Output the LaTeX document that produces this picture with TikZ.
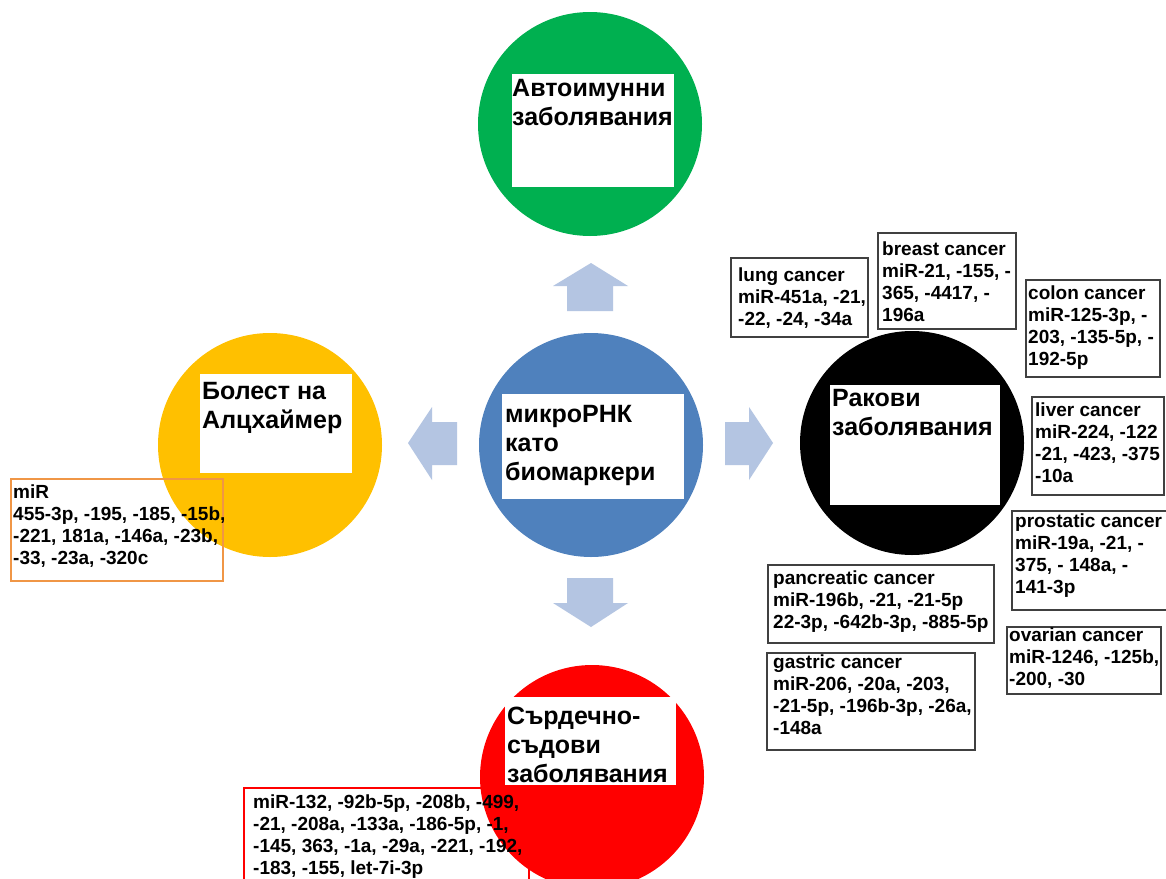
\documentclass[tikz,border=0pt]{standalone}
\usepackage{fontspec}
\setmainfont{Liberation Sans}
\definecolor{cgreen}{RGB}{0,176,80}
\definecolor{cblue}{RGB}{79,129,189}
\definecolor{cyellow}{RGB}{255,192,0}
\definecolor{cred}{RGB}{255,0,0}
\definecolor{carrow}{RGB}{180,197,226}
\definecolor{cframe}{RGB}{64,64,64}
\definecolor{corange}{RGB}{240,150,70}
\begin{document}
\begin{tikzpicture}[x=1pt,y=-1pt,
  disc/.style={circle,minimum size=224pt,inner sep=0pt,draw=none},
  wbox/.style={fill=white,draw=none},
  big/.style={font=\fontsize{25}{29}\selectfont\bfseries,align=left,inner sep=0pt,anchor=north west},
  small/.style={font=\fontsize{19}{21.8}\selectfont\bfseries,align=left,inner sep=0pt,anchor=north west},
  frame/.style={draw=cframe,line width=1.3pt,fill=white},
  blockarrow/.style={fill=carrow,draw=none}]
\useasboundingbox (0,0) rectangle (1166,878);
\fill[white] (0,0) rectangle (1166,878);

% circles
\node[disc,fill=cgreen]  (green)  at (590,124) {};
\node[disc,fill=cblue]   (blue)   at (591,445) {};
\node[disc,fill=cyellow] (yellow) at (270,445) {};
\node[disc,fill=black]   (black)  at (912,443) {};
\node[disc,fill=cred]    (red)    at (592,777) {};

% white label boxes
\fill[wbox] (512,74) rectangle (674,187);
\fill[wbox] (502,394) rectangle (684,499);
\fill[wbox] (200,374) rectangle (352,473);
\fill[wbox] (830,385) rectangle (1000,505);
\fill[wbox] (505,697) rectangle (676,785);

% big labels
\node[big] (tgreen)  at (512,79)  {\vphantom{Ал}Автоимунни\\заболявания};
\node[big] (tblue)   at (505,405) {\vphantom{Ал}микроРНК\\като\\биомаркери};
\node[big] (tyellow) at (202,382) {\vphantom{Ал}Болест на\\Алцхаймер};
\node[big] (tblack)  at (832,389) {\vphantom{Ал}Ракови\\заболявания};
\node[big] (tred)    at (507,707) {\vphantom{Ал}Сърдечно-\\съдови\\заболявания};

% block arrows
\fill[blockarrow] (591,263) -- (628,286) -- (613,286) -- (613,311) -- (567,311) -- (567,286) -- (553,286) -- cycle;
\fill[blockarrow] (591,627) -- (628,603) -- (613,603) -- (613,578) -- (567,578) -- (567,603) -- (553,603) -- cycle;
\fill[blockarrow] (408,443) -- (432,407) -- (432,422) -- (457,422) -- (457,465) -- (432,465) -- (432,480) -- cycle;
\fill[blockarrow] (773,443) -- (749,407) -- (749,422) -- (725,422) -- (725,465) -- (749,465) -- (749,480) -- cycle;

% cancer boxes
\draw[frame] (731,258) rectangle (868,337);
\node[small] (lung) at (738,268) {\vphantom{Ал}lung cancer\\miR-451a, -21,\\-22, -24, -34a};
\draw[frame] (878,233) rectangle (1016,329);
\node[small] (breast) at (882,242) {\vphantom{Ал}breast cancer\\miR-21, -155, -\\365, -4417, -\\196a};
\draw[frame] (1026,280) rectangle (1160,377);
\node[small] (colon) at (1028,286) {\vphantom{Ал}colon cancer\\miR-125-3p, -\\203, -135-5p, -\\192-5p};
\draw[frame] (1032,397) rectangle (1164,495);
\node[small] (liver) at (1035,403) {\vphantom{Ал}liver cancer\\miR-224, -122\\-21, -423, -375\\-10a};
\draw[frame] (1012,511) rectangle (1172,610);
\node[small] (prostatic) at (1015,514) {\vphantom{Ал}prostatic cancer\\miR-19a, -21, -\\375, - 148a, -\\141-3p};
\draw[frame] (768,565) rectangle (994,643);
\node[small] (pancreatic) at (773,571) {\vphantom{Ал}pancreatic cancer\\miR-196b, -21, -21-5p\\22-3p, -642b-3p, -885-5p};
\draw[frame] (767,653) rectangle (975,750);
\node[small] (gastric) at (773,655) {\vphantom{Ал}gastric cancer\\miR-206, -20a, -203,\\-21-5p, -196b-3p, -26a,\\-148a};
\draw[frame] (1007,627) rectangle (1161,694);
\node[small] (ovarian) at (1009,628) {\vphantom{Ал}ovarian cancer\\miR-1246, -125b,\\-200, -30};

% Alzheimer box
\draw[draw=corange,line width=1.3pt] (11,479) rectangle (223,581);
\node[small] (alz) at (13,485) {\vphantom{Ал}miR\\455-3p, -195, -185, -15b,\\-221, 181a, -146a, -23b,\\-33, -23a, -320c};

% cardio box
\draw[draw=cred,line width=1.2pt] (244,788) rectangle (529,900);
\node[small] (cardio) at (253,795) {\vphantom{Ал}miR-132, -92b-5p, -208b, -499,\\-21, -208a, -133a, -186-5p, -1,\\-145, 363, -1a, -29a, -221, -192,\\-183, -155, let-7i-3p};
\end{tikzpicture}
\end{document}
